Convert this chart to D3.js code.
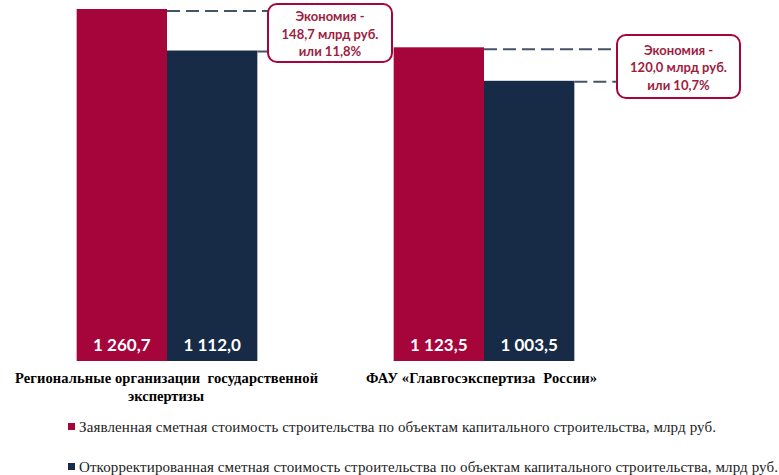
<!DOCTYPE html>
<html><head><meta charset="utf-8">
<script src="https://cdn.jsdelivr.net/npm/d3@7"></script>
<style>body{margin:0;background:#fff}svg{display:block}
.serif{font-family:"Liberation Serif","Times New Roman",Tinos,serif}
.sans{font-family:Lato,"Open Sans",sans-serif}</style>
</head><body>
<svg id="c" width="779" height="475"></svg>
<script>
const categories = ["Региональные организации  государственной|экспертизы", "ФАУ «Главгосэкспертиза  России»"];
const seriesNames = ["Заявленная сметная стоимость строительства по объектам капитального строительства, млрд руб.",
  "Откорректированная сметная стоимость строительства по объектам капитального строительства, млрд руб."];
const declared = [1260.7, 1123.5];
const corrected = [1112.0, 1003.5];
const valueLabels = [["1 260,7", "1 112,0"], ["1 123,5", "1 003,5"]];
const savings = [["Экономия -", "148,7 млрд руб.", "или 11,8%"], ["Экономия -", "120,0 млрд руб.", "или 10,7%"]];
const colors = ["#a5053a", "#182b46"];

const svg = d3.select("#c");
const x = d3.scaleBand().domain(d3.range(categories.length)).range([8.5, 642.5]).paddingInner(0.43).paddingOuter(0.215);
const xs = d3.scaleBand().domain([0, 1]).range([0, x.bandwidth()]).padding(0);
const y = d3.scaleLinear().domain([0, 1260.7]).range([361, 9]);

const data = categories.map((c, i) => [declared[i], corrected[i]]);

const g = svg.selectAll("g.grp").data(data).join("g").attr("class", "grp")
  .attr("transform", (d, i) => `translate(${x(i)},0)`);
g.selectAll("rect").data(d => d).join("rect")
  .attr("x", (d, j) => xs(j)).attr("width", xs.bandwidth())
  .attr("y", d => y(d)).attr("height", d => y(0) - y(d))
  .attr("fill", (d, j) => colors[j]);
g.selectAll("text.val").data((d, i) => valueLabels[i]).join("text").attr("class", "val sans")
  .attr("x", (d, j) => xs(j) + xs.bandwidth() / 2).attr("y", 351)
  .attr("text-anchor", "middle").attr("fill", "#fff")
  .attr("font-weight", "bold").attr("font-size", 17)
  .text(d => d);

// callouts
const boxes = [{x: 268, y: 4, w: 124, h: 58}, {x: 617, y: 35, w: 123, h: 63}];
data.forEach((d, i) => {
  const b = boxes[i];
  const dash = svg.append("g").attr("stroke", "#44546a").attr("stroke-width", 2).attr("stroke-dasharray", "13,6");
  dash.append("line").attr("x1", x(i) + xs(0) + xs.bandwidth()).attr("x2", b.x).attr("y1", y(d[0]) + 2).attr("y2", y(d[0]) + 2);
  dash.append("line").attr("x1", x(i) + xs(1) + xs.bandwidth()).attr("x2", b.x).attr("y1", y(d[1]) + 1).attr("y2", y(d[1]) + 1);
  svg.append("rect").attr("x", b.x).attr("y", b.y).attr("width", b.w).attr("height", b.h)
    .attr("rx", 9).attr("fill", "#fff").attr("stroke", "#a5053a").attr("stroke-width", 2);
  const t = svg.append("text").attr("class", "sans").attr("text-anchor", "middle").attr("fill", "#a01c3e")
    .attr("font-weight", "bold").attr("font-size", 13);
  savings[i].forEach((s, k) => t.append("tspan").attr("x", b.x + b.w / 2)
    .attr("y", b.y + b.h / 2 - 12 + k * 17.5).text(s));
});

// category labels
const catLines = [[{cx: 166.5, len: 303}, {cx: 166, len: 0}], [{cx: 481.5, len: 231}]];
categories.forEach((c, i) => {
  c.split("|").forEach((s, k) => {
    const p = catLines[i][k];
    const t = svg.append("text").attr("class", "serif").attr("text-anchor", "middle").attr("fill", "#000")
      .attr("font-weight", "bold").attr("font-size", 14.5).style("white-space", "pre")
      .attr("x", p.cx).attr("y", 383 + k * 18).text(s);
    if (p.len) t.attr("textLength", p.len).attr("lengthAdjust", "spacing");
  });
});

// legend
const legLen = [637, 699];
seriesNames.forEach((s, j) => {
  const ly = 427 + j * 40;
  svg.append("rect").attr("x", 68).attr("y", ly - 4).attr("width", 7).attr("height", 7).attr("fill", colors[j]);
  svg.append("text").attr("class", "serif").attr("x", 79).attr("y", ly + 5).attr("fill", "#222")
    .attr("font-size", 15).attr("textLength", legLen[j]).attr("lengthAdjust", "spacing").text(s);
});
</script>
</body></html>
